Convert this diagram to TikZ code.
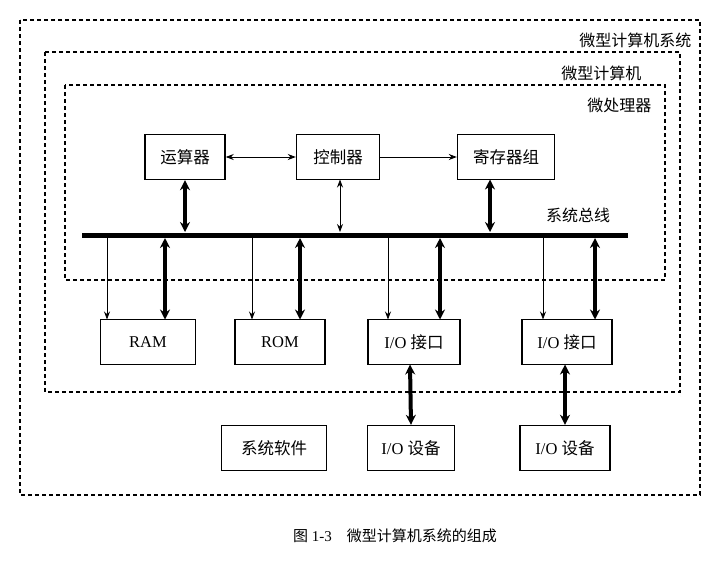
\documentclass[tikz,border=0pt]{standalone}
\usepackage{fontspec}
\setmainfont{Liberation Serif}
\newfontfamily\cjk{Noto Sans CJK SC}
\usetikzlibrary{arrows.meta}
\begin{document}
\begin{tikzpicture}[x=1pt,y=-1pt,
  dbox/.style={draw,dash pattern=on 4pt off 3pt,line width=1.1pt},
  box/.style={draw,line width=1.4pt,minimum height=45pt,font=\fontsize{16.5}{18}\selectfont,inner sep=2pt},
  lab/.style={font=\fontsize{16}{18}\selectfont\cjk},
  thin/.style={line width=0.9pt,-{Stealth[length=8pt,width=6pt]}},
  thind/.style={line width=0.9pt,{Stealth[length=8pt,width=6pt]}-{Stealth[length=8pt,width=6pt]}},
  thick/.style={line width=4pt,{Stealth[length=10pt,width=10pt]}-{Stealth[length=10pt,width=10pt]}}]
\useasboundingbox (0,0) rectangle (725,566);
\draw[dbox] (20,20) rectangle (700,495);
\draw[dbox] (45,52) rectangle (680,392);
\draw[dbox] (65,85) rectangle (665,280);
\node[lab,anchor=east] (l1) at (695,40) {微型计算机系统};
\node[lab,anchor=east] (l2) at (645,73) {微型计算机};
\node[lab,anchor=east] (l3) at (655,105) {微处理器};
\node[box,minimum width=80pt] (alu) at (185,157) {\cjk 运算器};
\node[box,minimum width=83pt] (cu) at (338,157) {\cjk 控制器};
\node[box,minimum width=97pt] (reg) at (506,157) {\cjk 寄存器组};
\coordinate (bl) at (82,235); \coordinate (br) at (628,235);
\draw[line width=5pt] (bl) -- (br);
\node[lab] (bus) at (578,215) {系统总线};
\draw[thind] (cu.west) -- (alu.east);
\draw[thin] (cu.east) -- (reg.west);
\draw[thick] (alu.south) -- (185,232);
\draw[thind] (340,179.5) -- (340,232);
\draw[thick] (490,179.5) -- (490,232);
\node[box,minimum width=95pt] (ram) at (148,342) {RAM};
\node[box,minimum width=90pt] (rom) at (280,342) {ROM};
\node[box,minimum width=92pt] (io1) at (414,342) {I/O {\cjk 接口}};
\node[box,minimum width=90pt] (io2) at (567,342) {I/O {\cjk 接口}};
\foreach \x in {107,252,388,543} \draw[thin] (\x,237) -- (\x,319.5);
\foreach \x in {165,300,440,595} \draw[thick] (\x,238) -- (\x,319.5);
\node[box,minimum width=105pt] (sw) at (274,448) {\cjk 系统软件};
\node[box,minimum width=87pt] (d1) at (411,448) {I/O {\cjk 设备}};
\node[box,minimum width=90pt] (d2) at (565,448) {I/O {\cjk 设备}};
\draw[thick] (410,364.5) -- (d1.north);
\draw[thick] (565,364.5) -- (d2.north);
\node[font=\fontsize{15}{17}\selectfont] (cap) at (395,536) {{\cjk 图} 1-3\quad{\cjk 微型计算机系统的组成}};
\end{tikzpicture}
\end{document}
